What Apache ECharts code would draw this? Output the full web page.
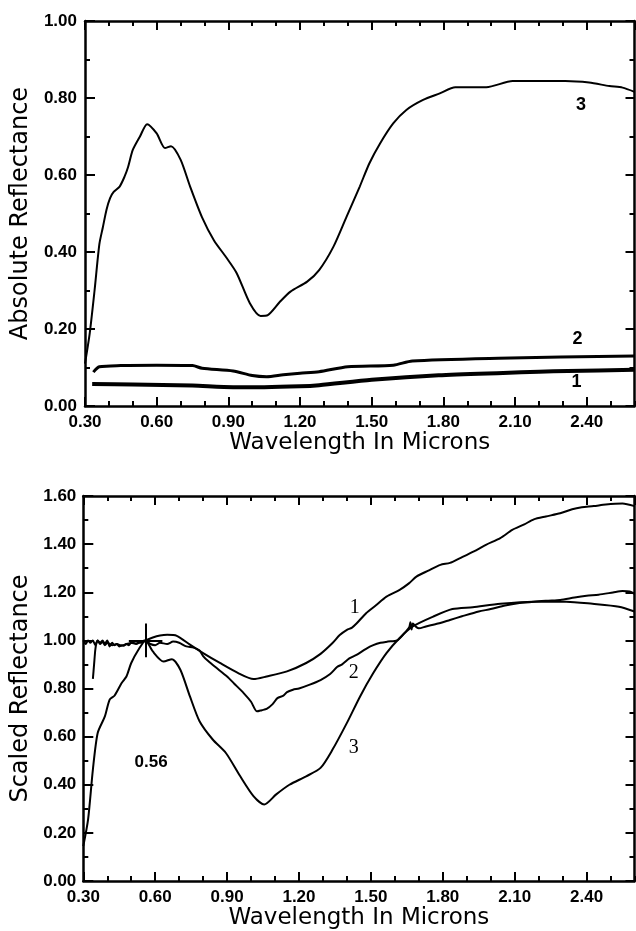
<!DOCTYPE html>
<html>
<head>
<meta charset="utf-8">
<script src="https://cdn.jsdelivr.net/npm/echarts@6/dist/echarts.min.js"></script>
<style>
  html, body { margin: 0; padding: 0; background: #fff; }
  #chart { width: 636px; height: 931px; }
</style>
</head>
<body>
<div id="chart"></div>
<script>
// ---- Absolute reflectance (upper panel) ----
const absW3 = [0.30, 0.32, 0.34, 0.36, 0.375, 0.39, 0.405, 0.42, 0.445, 0.465, 0.48, 0.50, 0.53, 0.56, 0.60, 0.635, 0.66, 0.70, 0.74, 0.79, 0.84, 0.89, 0.935, 0.99, 1.035, 1.065, 1.115, 1.16, 1.23, 1.28, 1.34, 1.395, 1.45, 1.49, 1.535, 1.59, 1.645, 1.715, 1.785, 1.85, 1.98, 2.09, 2.31, 2.41, 2.495, 2.55, 2.60];
const absV3 = [0.11, 0.19, 0.30, 0.42, 0.465, 0.51, 0.54, 0.556, 0.57, 0.595, 0.62, 0.665, 0.70, 0.732, 0.708, 0.67, 0.675, 0.64, 0.57, 0.49, 0.43, 0.387, 0.345, 0.267, 0.234, 0.236, 0.27, 0.297, 0.323, 0.353, 0.414, 0.492, 0.57, 0.63, 0.682, 0.734, 0.769, 0.795, 0.812, 0.828, 0.828, 0.844, 0.844, 0.84, 0.831, 0.827, 0.816];

const absW2 = [0.335, 0.36, 0.45, 0.60, 0.75, 0.79, 0.92, 1.00, 1.06, 1.13, 1.20, 1.28, 1.40, 1.59, 1.67, 2.03, 2.60];
const absV2 = [0.088, 0.102, 0.105, 0.106, 0.105, 0.098, 0.091, 0.079, 0.076, 0.081, 0.085, 0.089, 0.102, 0.106, 0.117, 0.124, 0.130];

const absW1 = [0.33, 0.50, 0.75, 0.92, 1.05, 1.20, 1.28, 1.50, 1.78, 2.05, 2.20, 2.32, 2.60];
const absV1 = [0.057, 0.056, 0.053, 0.049, 0.049, 0.051, 0.054, 0.068, 0.080, 0.086, 0.089, 0.091, 0.094];

// ---- Scaled reflectance (lower panel), normalised at 0.56 microns ----
const scW1 = [0.30, 0.31, 0.32, 0.33, 0.34, 0.35, 0.36, 0.37, 0.38, 0.39, 0.40, 0.42, 0.44, 0.46, 0.48, 0.50, 0.52, 0.54, 0.56, 0.59, 0.62, 0.65, 0.69, 0.745, 0.80, 0.87, 0.95, 1.01, 1.065, 1.15, 1.23, 1.29, 1.34, 1.37, 1.40, 1.42, 1.44, 1.48, 1.52, 1.565, 1.62, 1.66, 1.69, 1.74, 1.79, 1.83, 1.87, 1.93, 1.98, 2.04, 2.09, 2.14, 2.18, 2.23, 2.29, 2.34, 2.38, 2.43, 2.48, 2.55, 2.60];
const scV1 = [1.0, 0.985, 1.0, 0.99, 1.0, 0.98, 1.0, 0.985, 0.995, 0.98, 0.99, 0.98, 0.985, 0.978, 0.985, 0.99, 0.995, 0.99, 1.0, 1.012, 1.02, 1.023, 1.019, 0.982, 0.947, 0.906, 0.862, 0.839, 0.85, 0.871, 0.906, 0.944, 0.989, 1.022, 1.044, 1.052, 1.07, 1.113, 1.145, 1.182, 1.21, 1.238, 1.265, 1.29, 1.314, 1.322, 1.341, 1.37, 1.397, 1.425, 1.459, 1.482, 1.503, 1.515, 1.528, 1.545, 1.553, 1.558, 1.565, 1.569, 1.558];

const scW2 = [0.34, 0.345, 0.35, 0.355, 0.36, 0.37, 0.38, 0.39, 0.40, 0.41, 0.42, 0.43, 0.44, 0.45, 0.46, 0.47, 0.48, 0.49, 0.50, 0.52, 0.54, 0.56, 0.58, 0.60, 0.62, 0.65, 0.675, 0.70, 0.73, 0.76, 0.785, 0.80, 0.82, 0.85, 0.90, 0.93, 0.97, 1.00, 1.025, 1.045, 1.065, 1.09, 1.11, 1.135, 1.15, 1.175, 1.20, 1.245, 1.29, 1.33, 1.36, 1.38, 1.41, 1.44, 1.48, 1.51, 1.54, 1.57, 1.61, 1.64, 1.66, 1.665, 1.67, 1.675, 1.69, 1.70, 1.73, 1.78, 1.83, 1.88, 1.95, 2.00, 2.06, 2.12, 2.18, 2.24, 2.29, 2.35, 2.40, 2.45, 2.51, 2.55, 2.58, 2.60];
const scV2 = [0.84, 0.90, 0.96, 0.99, 1.00, 0.99, 1.00, 0.985, 1.00, 0.975, 0.99, 0.98, 0.985, 0.975, 0.98, 0.978, 0.985, 0.98, 0.99, 0.985, 0.995, 1.00, 0.985, 0.98, 0.99, 0.985, 0.995, 0.99, 0.975, 0.97, 0.958, 0.935, 0.915, 0.89, 0.85, 0.82, 0.78, 0.745, 0.705, 0.71, 0.715, 0.735, 0.76, 0.77, 0.785, 0.795, 0.80, 0.816, 0.835, 0.86, 0.89, 0.90, 0.925, 0.94, 0.965, 0.98, 0.99, 0.995, 1.00, 1.03, 1.055, 1.075, 1.045, 1.07, 1.055, 1.05, 1.058, 1.07, 1.085, 1.10, 1.12, 1.13, 1.145, 1.155, 1.161, 1.165, 1.168, 1.178, 1.185, 1.19, 1.199, 1.205, 1.203, 1.193];

const scW3 = [0.30, 0.32, 0.34, 0.36, 0.39, 0.41, 0.43, 0.46, 0.48, 0.50, 0.53, 0.56, 0.59, 0.635, 0.67, 0.705, 0.745, 0.785, 0.84, 0.895, 0.955, 1.01, 1.055, 1.105, 1.16, 1.23, 1.29, 1.34, 1.40, 1.455, 1.51, 1.565, 1.62, 1.675, 1.76, 1.84, 1.925, 2.04, 2.175, 2.315, 2.425, 2.535, 2.60];
const scV3 = [0.145, 0.256, 0.463, 0.615, 0.684, 0.754, 0.77, 0.823, 0.85, 0.906, 0.961, 1.0, 0.954, 0.912, 0.922, 0.878, 0.767, 0.664, 0.588, 0.532, 0.435, 0.353, 0.318, 0.36, 0.40, 0.435, 0.47, 0.546, 0.657, 0.767, 0.864, 0.947, 1.01, 1.058, 1.099, 1.13, 1.138, 1.152, 1.161, 1.161, 1.152, 1.14, 1.12];

// Curve labels: [wavelength, reflectance, text]
const absLabels = [[2.376, 0.782, '3'], [2.361, 0.174, '2'], [2.357, 0.063, '1']];
const scLabels = [[1.433, 1.134, '1'], [1.428, 0.867, '2'], [1.428, 0.553, '3']];
const normLabel = [[0.583, 0.494, '0.56']];
// Normalisation point marker
const normPoint = [0.56, 1.0];
const normArm = [0.07, 0.07];

const xTitle = 'Wavelength In Microns';
const yTitleAbs = 'Absolute Reflectance';
const yTitleSc = 'Scaled Reflectance';

const zip = (xs, ys) => xs.map((x, i) => [x, ys[i]]);

const tickFont = { fontFamily: 'Liberation Sans', fontWeight: 'bold', fontSize: 17, color: '#000' };
const nameFont = { fontFamily: 'DejaVu Sans', fontSize: 23, color: '#000' };
const axisLineStyle = { color: '#000', width: 2.5 };

function xAxes(grid, gap) {
  const base = {
    type: 'value', gridIndex: grid, min: 0.3, max: 2.6,
    splitLine: { show: false }
  };
  return [
    Object.assign({}, base, {
      position: 'bottom', interval: 0.3,
      axisLine: { show: true, onZero: false, lineStyle: axisLineStyle },
      axisTick: { show: true, inside: true, length: 9, lineStyle: { color: '#000', width: 2 } },
      axisLabel: Object.assign({ margin: 8, showMaxLabel: false, formatter: v => v.toFixed(2) }, tickFont),
      name: xTitle, nameLocation: 'middle', nameGap: gap, nameTextStyle: nameFont
    }),
    Object.assign({}, base, {
      position: 'bottom', interval: 0.1,
      axisLine: { show: false, onZero: false },
      axisTick: { show: true, inside: true, length: 5, lineStyle: { color: '#000', width: 2 } },
      axisLabel: { show: false }
    }),
    Object.assign({}, base, {
      position: 'top', interval: 0.3,
      axisLine: { show: true, onZero: false, lineStyle: axisLineStyle },
      axisTick: { show: true, inside: true, length: 9, lineStyle: { color: '#000', width: 2 } },
      axisLabel: { show: false }
    }),
    Object.assign({}, base, {
      position: 'top', interval: 0.1,
      axisLine: { show: false, onZero: false },
      axisTick: { show: true, inside: true, length: 5, lineStyle: { color: '#000', width: 2 } },
      axisLabel: { show: false }
    })
  ];
}

function yAxes(grid, max, title, labelMargin) {
  const base = {
    type: 'value', gridIndex: grid, min: 0, max: max, interval: 0.2,
    splitLine: { show: false },
    axisLine: { show: true, onZero: false, lineStyle: axisLineStyle },
    minorTick: { show: true, splitNumber: 2, length: 5, lineStyle: { color: '#000', width: 2 } }
  };
  return [
    Object.assign({}, base, {
      position: 'left',
      axisTick: { show: true, inside: true, length: 10, lineStyle: { color: '#000', width: 2 } },
      axisLabel: Object.assign({ margin: labelMargin, formatter: v => v.toFixed(2) }, tickFont),
      name: title, nameLocation: 'middle', nameGap: 48, nameRotate: 90,
      nameTextStyle: Object.assign({}, nameFont, { fontSize: 24 })
    }),
    Object.assign({}, base, {
      position: 'right',
      axisTick: { show: true, inside: true, length: 9, lineStyle: { color: '#000', width: 2 } },
      axisLabel: { show: false }
    })
  ];
}

function curve(data, xi, yi, width) {
  return {
    type: 'line', data: data, xAxisIndex: xi, yAxisIndex: yi,
    showSymbol: false, symbol: 'none', smooth: 0.25, silent: true,
    lineStyle: { color: '#000', width: width, opacity: 1 }
  };
}

function labelSeries(data, xi, yi, font) {
  return {
    type: 'scatter', data: data, xAxisIndex: xi, yAxisIndex: yi,
    symbolSize: 1, silent: true,
    itemStyle: { color: 'rgba(0,0,0,0)', opacity: 1 },
    label: Object.assign({ show: true, position: 'inside', formatter: p => p.data[2], color: '#000', opacity: 1 }, font)
  };
}

const chart = echarts.init(document.getElementById('chart'), null, { renderer: 'canvas' });
chart.setOption({
  animation: false,
  backgroundColor: '#fff',
  grid: [
    { left: 85, right: 1.5, top: 21, height: 385 },
    { left: 83.3, right: 1.5, top: 496, height: 385.7 }
  ],
  xAxis: xAxes(0, 24).concat(xAxes(1, 26)),
  yAxis: yAxes(0, 1.0, yTitleAbs, 8).concat(yAxes(1, 1.6, yTitleSc, 7)),
  series: [
    curve(zip(absW3, absV3), 0, 0, 2),
    curve(zip(absW2, absV2), 0, 0, 3),
    curve(zip(absW1, absV1), 0, 0, 4),
    labelSeries(absLabels, 0, 0, { fontFamily: 'Liberation Sans', fontWeight: 'bold', fontSize: 18 }),

    curve(zip(scW1, scV1), 4, 2, 2),
    curve(zip(scW2, scV2), 4, 2, 2),
    Object.assign(curve(zip(scW3, scV3), 4, 2, 2), {
      markLine: {
        silent: true, symbol: 'none', label: { show: false },
        lineStyle: { color: '#000', width: 2, type: 'solid', opacity: 1 },
        data: [
          [{ coord: [normPoint[0] - normArm[0], normPoint[1]] }, { coord: [normPoint[0] + normArm[0], normPoint[1]] }],
          [{ coord: [normPoint[0], normPoint[1] - normArm[1]] }, { coord: [normPoint[0], normPoint[1] + normArm[1]] }]
        ]
      }
    }),
    labelSeries(scLabels, 4, 2, { fontFamily: 'Liberation Serif', fontSize: 20 }),
    labelSeries(normLabel, 4, 2, { fontFamily: 'Liberation Sans', fontWeight: 'bold', fontSize: 17 })
  ]
});
</script>
</body>
</html>
